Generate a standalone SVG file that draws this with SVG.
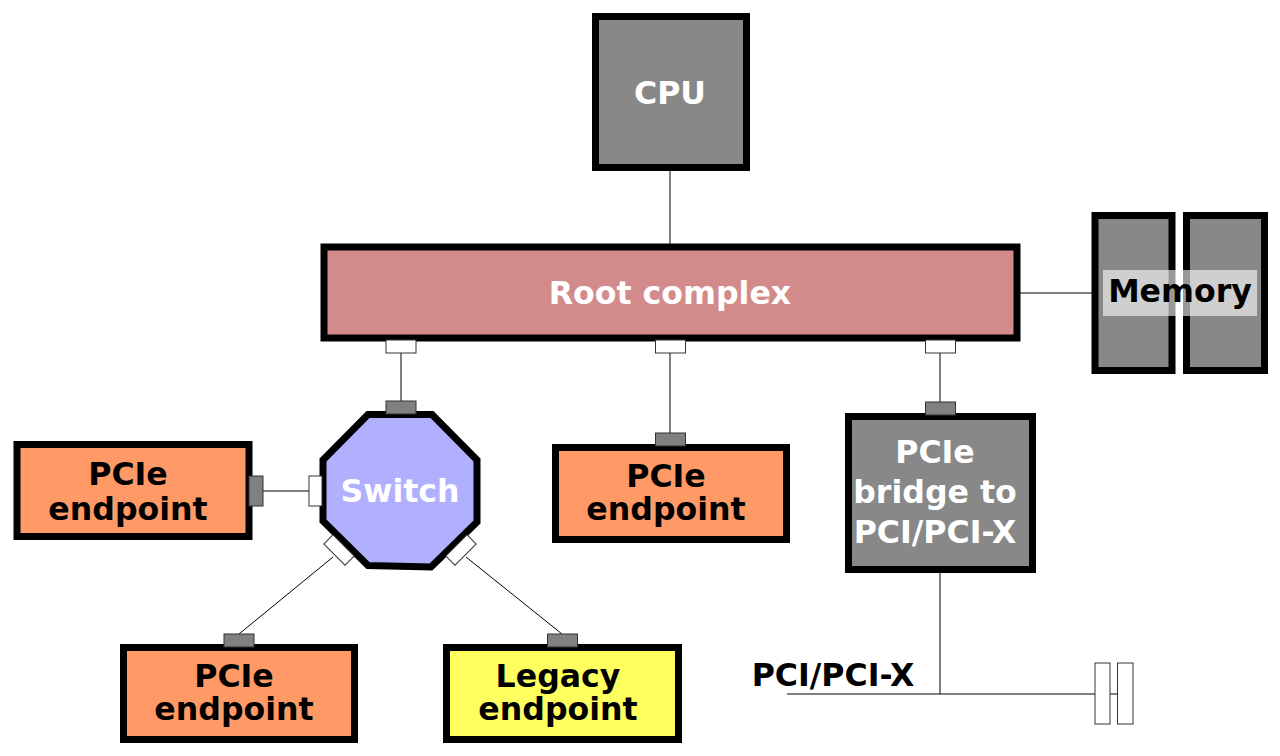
<svg xmlns="http://www.w3.org/2000/svg" width="1280" height="756" viewBox="0 0 1280 756">
<style>
  .box { stroke: #000; stroke-width: 7; }
  .gray { fill: #888888; }
  .orange { fill: #ff9966; }
  .yellow { fill: #ffff5f; }
  .root { fill: #d38a8a; }
  .sw { fill: #b0b0ff; }
  .port-w { fill: #ffffff; stroke: #333; stroke-width: 1; }
  .port-g { fill: #808080; stroke: #333; stroke-width: 1; }
  .wire { stroke: #000; stroke-width: 1; fill: none; }
  text { font-family: "DejaVu Sans", "Liberation Sans", sans-serif; font-weight: bold; font-size: 31.6px; text-anchor: middle; }
  .wt { fill: #ffffff; }
  .bt { fill: #000000; }
</style>
<rect width="1280" height="756" fill="#ffffff"/>

<g id="connectors">
  <line class="wire" x1="670" y1="171" x2="670" y2="244"/>
  <line class="wire" x1="1020" y1="293" x2="1092" y2="293"/>
  <line class="wire" x1="401" y1="353" x2="401" y2="401"/>
  <line class="wire" x1="670" y1="353" x2="670" y2="433"/>
  <line class="wire" x1="940" y1="353" x2="940" y2="402"/>
  <line class="wire" x1="263" y1="491" x2="309" y2="491"/>
  <line class="wire" x1="333" y1="557" x2="239" y2="634"/>
  <line class="wire" x1="466" y1="557" x2="562" y2="634"/>
  <line class="wire" x1="940" y1="573" x2="940" y2="694"/>
  <line class="wire" x1="787" y1="694" x2="1095" y2="694"/>
  <line class="wire" x1="1110" y1="694" x2="1117" y2="694"/>
</g>

<g id="cpu">
  <rect class="box gray" x="595.5" y="16.5" width="151" height="151"/>
  <text class="wt" x="670" y="104">CPU</text>
</g>

<g id="root-complex">
  <rect class="box root" x="324" y="247" width="693" height="91"/>
  <text class="wt" x="670" y="304">Root complex</text>
  <rect class="port-w" x="386" y="340" width="30" height="13"/>
  <rect class="port-w" x="655.5" y="340" width="30" height="13"/>
  <rect class="port-w" x="925.5" y="340" width="30" height="13"/>
</g>

<g id="memory">
  <rect class="box gray" x="1095" y="215.5" width="77" height="155"/>
  <rect class="box gray" x="1186.5" y="215.5" width="78" height="155"/>
  <rect x="1103" y="270" width="154" height="46" fill="#ffffff" fill-opacity="0.6"/>
  <text class="bt" x="1180" y="302">Memory</text>
</g>

<g id="switch">
  <polygon class="box sw" points="368,414.5 432,414.5 477,460 477,522 431,567 368,565.5 323,521 323,460"/>
  <text class="wt" x="400" y="502">Switch</text>
  <rect class="port-g" x="386" y="401" width="30" height="13"/>
  <rect class="port-w" x="309" y="476" width="13" height="30"/>
  <rect class="port-w" x="-15" y="-6.5" width="30" height="13" transform="translate(339,550) rotate(45)"/>
  <rect class="port-w" x="-15" y="-6.5" width="30" height="13" transform="translate(461,550) rotate(-45)"/>
</g>

<g id="endpoint-left">
  <rect class="box orange" x="17" y="444.5" width="232" height="92"/>
  <text class="bt" x="128" y="485">PCIe</text>
  <text class="bt" x="128" y="520">endpoint</text>
  <rect class="port-g" x="249" y="476" width="14" height="30"/>
</g>

<g id="endpoint-middle">
  <rect class="box orange" x="555.5" y="447.5" width="231" height="92"/>
  <text class="bt" x="666" y="487">PCIe</text>
  <text class="bt" x="666" y="520">endpoint</text>
  <rect class="port-g" x="655.5" y="433" width="30" height="13"/>
</g>

<g id="bridge">
  <rect class="box gray" x="848.5" y="416.5" width="184" height="153"/>
  <text class="wt" x="935" y="463">PCIe</text>
  <text class="wt" x="935" y="503">bridge to</text>
  <text class="wt" x="935" y="543">PCI/PCI-X</text>
  <rect class="port-g" x="925.5" y="402" width="30" height="13"/>
</g>

<g id="endpoint-bottom">
  <rect class="box orange" x="123.5" y="647.5" width="231" height="92"/>
  <text class="bt" x="234" y="687">PCIe</text>
  <text class="bt" x="234" y="720">endpoint</text>
  <rect class="port-g" x="224" y="634" width="30" height="13"/>
</g>

<g id="legacy-endpoint">
  <rect class="box yellow" x="446.5" y="647.5" width="232" height="92"/>
  <text class="bt" x="558" y="687">Legacy</text>
  <text class="bt" x="558" y="720">endpoint</text>
  <rect class="port-g" x="547.5" y="634" width="30" height="13"/>
</g>

<g id="pci-bus">
  <text class="bt" x="833" y="686">PCI/PCI-X</text>
  <rect class="port-w" x="1095" y="663" width="15" height="61"/>
  <rect class="port-w" x="1117.5" y="663" width="15.5" height="61"/>
</g>
</svg>
